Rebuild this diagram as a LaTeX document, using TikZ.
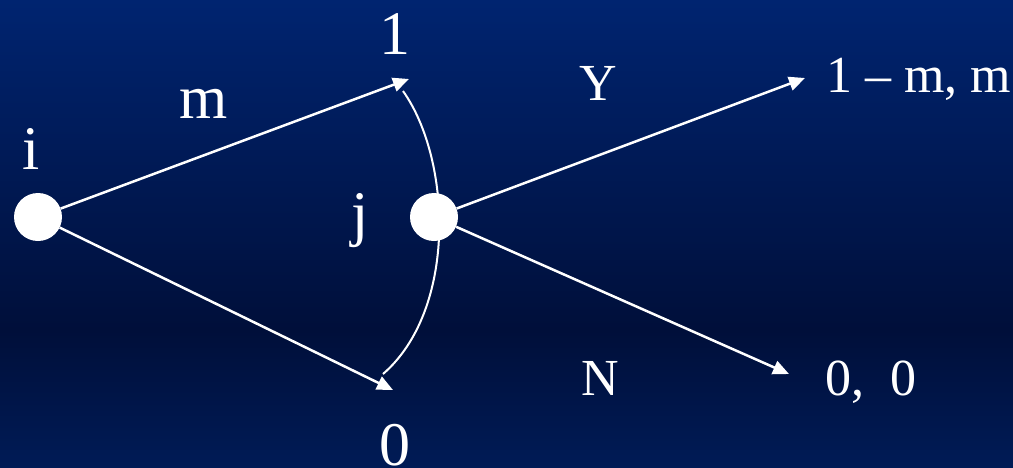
\documentclass[tikz,border=0pt]{standalone}
\usepackage{fontspec}
\setmainfont{Liberation Serif}
\usetikzlibrary{arrows.meta}
\definecolor{bgtop}{RGB}{0,36,112}
\definecolor{bgmid}{RGB}{0,15,58}
\definecolor{bgbot}{RGB}{0,27,86}
\begin{document}
\begin{tikzpicture}[x=1pt,y=-1pt,
  player/.style={circle,fill=white,draw=none,minimum size=48pt,inner sep=0pt},
  biglabel/.style={text=white,inner sep=0pt,anchor=base,font=\fontsize{62}{70}\selectfont},
  smalllabel/.style={text=white,inner sep=0pt,anchor=base,font=\fontsize{52}{60}\selectfont},
  move/.style={draw=white,line width=2.5pt,-{Triangle[length=16pt,width=14pt]}},
  infoset/.style={draw=white,line width=2pt}]
\useasboundingbox (0,0) rectangle (1013,467);
\shade[top color=bgtop,bottom color=bgmid] (0,0) rectangle (1013,330);
\shade[top color=bgmid,bottom color=bgbot] (0,330) rectangle (1013,467);
% coordinates
\coordinate (t1) at (409,79);
\coordinate (t0) at (393,390);
\coordinate (ty) at (805,78);
\coordinate (tn) at (789,374);
\coordinate (a1) at (403,91);
\coordinate (a0) at (383,374);
% information set arc
\draw[infoset] (a1) .. controls (452,160) and (457,310) .. (a0);
% players
\node[player] (i) at (38,217) {};
\node[player] (j) at (434,217) {};
% moves
\draw[move] (i) -- (t1);
\draw[move] (i) -- (t0);
\draw[move] (j) -- (ty);
\draw[move] (j) -- (tn);
% labels
\node[biglabel] (li) at (31,169) {i};
\node[biglabel] (lj) at (360,234) {j};
\node[biglabel] (l1) at (395,54) {1};
\node[biglabel] (l0) at (395,465) {0};
\node[biglabel] (lm) at (204,118) {m};
\node[smalllabel] (ly) at (598,100) {Y};
\node[smalllabel] (ln) at (600,395) {N};
\node[smalllabel,anchor=base west] (py) at (826,92) {1 – m, m};
\node[smalllabel,anchor=base west] (pn) at (825,395) {0,\ \ 0};
\end{tikzpicture}
\end{document}
